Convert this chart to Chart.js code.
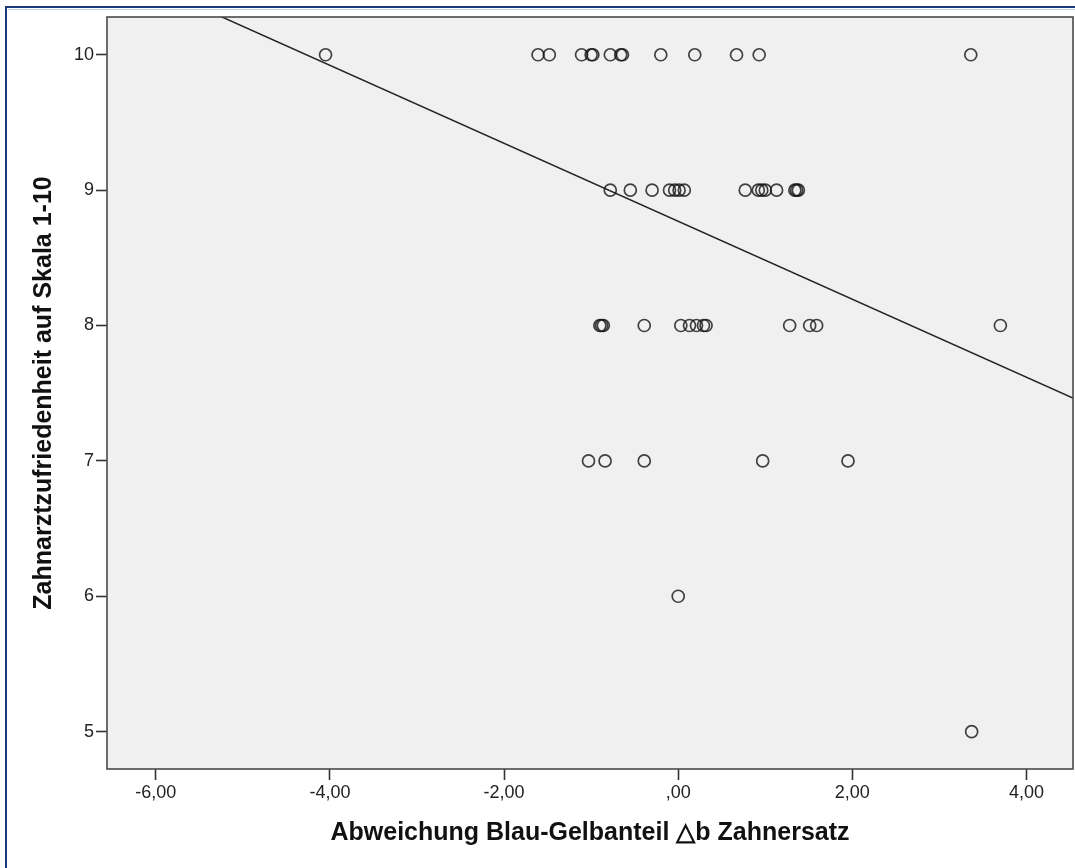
<!DOCTYPE html>
<html>
<head>
<meta charset="utf-8">
<script src="https://cdn.jsdelivr.net/npm/chart.js@4.4.1/dist/chart.umd.min.js"></script>
<style>
  html, body { margin: 0; padding: 0; background: #fff; overflow: hidden; }
  canvas { display: block; }
</style>
</head>
<body>
<canvas id="scatterChart" width="1075" height="868"></canvas>
<script>
// data
const abweichung = [
  -4.05, -1.61, -1.48, -1.11, -1.00, -0.98, -0.78, -0.66, -0.64, -0.20, 0.19, 0.67, 0.93, 3.36,
  -0.78, -0.55, -0.30, -0.10, -0.04, 0.01, 0.07, 0.77, 0.92, 0.96, 1.00, 1.13, 1.34, 1.36, 1.38,
  -0.90, -0.88, -0.86, -0.39, 0.03, 0.13, 0.21, 0.29, 0.32, 1.28, 1.51, 1.59, 3.70,
  -1.03, -0.84, -0.39, 0.97, 1.95,
  0.00,
  3.37
];
const zufriedenheit = [
  10, 10, 10, 10, 10, 10, 10, 10, 10, 10, 10, 10, 10, 10,
  9, 9, 9, 9, 9, 9, 9, 9, 9, 9, 9, 9, 9, 9, 9,
  8, 8, 8, 8, 8, 8, 8, 8, 8, 8, 8, 8, 8,
  7, 7, 7, 7, 7,
  6,
  5
];
// linear fit line
const fitIntercept = 8.77;
const fitSlope = -0.288;

const xTicks = [-6, -4, -2, 0, 2, 4];
const xTickLabels = ['-6,00', '-4,00', '-2,00', ',00', '2,00', '4,00'];
const yTicks = [5, 6, 7, 8, 9, 10];
const yTickLabels = ['5', '6', '7', '8', '9', '10'];

const xMin = -6.56, xMax = 4.534;
const yMin = 4.724, yMax = 10.279;

const points = abweichung.map((x, i) => ({ x: x, y: zufriedenheit[i] }));
const fitLine = [xMin, xMax].map(x => ({ x: x, y: fitIntercept + fitSlope * x }));

const FONT = '"Liberation Sans", Arial, sans-serif';

// background, blue page border and plot frame
const frame = {
  id: 'frame',
  beforeDraw(chart) {
    const c = chart.ctx, a = chart.chartArea;
    c.save();
    c.fillStyle = '#ffffff';
    c.fillRect(0, 0, chart.width, chart.height);
    c.fillStyle = '#f0f0f0';
    c.fillRect(a.left, a.top, a.right - a.left, a.bottom - a.top);
    c.strokeStyle = '#1b3a78';
    c.lineWidth = 2;
    c.beginPath();
    c.moveTo(6, chart.height);
    c.lineTo(6, 7);
    c.lineTo(chart.width, 7);
    c.stroke();
    c.strokeStyle = '#c3d0e8';
    c.lineWidth = 1;
    c.beginPath();
    c.moveTo(8, 9.5);
    c.lineTo(chart.width, 9.5);
    c.stroke();
    c.restore();
  },
  afterDraw(chart) {
    const c = chart.ctx, a = chart.chartArea;
    c.save();
    c.strokeStyle = '#4a4a4a';
    c.lineWidth = 1.6;
    c.strokeRect(a.left, a.top, a.right - a.left, a.bottom - a.top);
    c.restore();
  }
};

const ctx = document.getElementById('scatterChart').getContext('2d');

const myChart = new Chart(ctx, {
  type: 'scatter',
  data: {
    datasets: [
      {
        label: 'Fit',
        type: 'line',
        data: fitLine,
        borderColor: '#222',
        borderWidth: 1.5,
        pointRadius: 0,
        fill: false,
        order: 2
      },
      {
        label: 'Zahnarztzufriedenheit',
        data: points,
        pointStyle: 'circle',
        pointRadius: 6,
        pointBorderWidth: 1.7,
        borderColor: 'rgba(20,20,20,0.8)',
        backgroundColor: 'rgba(0,0,0,0)',
        pointHoverRadius: 6,
        order: 1
      }
    ]
  },
  options: {
    responsive: false,
    animation: false,
    devicePixelRatio: 1,
    layout: { autoPadding: false, padding: { left: 7, top: 17, right: 2, bottom: 0 } },
    plugins: {
      legend: { display: false },
      tooltip: { enabled: false }
    },
    scales: {
      x: {
        type: 'linear',
        min: xMin,
        max: xMax,
        afterFit(scale) {
          scale.height = 99;
          scale.paddingLeft = 0;
          scale.paddingRight = 0;
        },
        afterBuildTicks(scale) { scale.ticks = xTicks.map(v => ({ value: v })); },
        grid: { drawOnChartArea: false, drawTicks: true, tickLength: 11, tickColor: '#333', tickWidth: 1.6 },
        border: { display: false },
        ticks: {
          padding: 2,
          color: '#222',
          font: { family: FONT, size: 18 },
          maxRotation: 0,
          callback: (v) => xTickLabels[xTicks.indexOf(v)]
        },
        title: {
          display: true,
          text: 'Abweichung Blau-Gelbanteil \u25B3b Zahnersatz',
          color: '#111',
          font: { family: FONT, size: 25, weight: 'bold' },
          padding: { top: 0, bottom: 20 }
        }
      },
      y: {
        type: 'linear',
        min: yMin,
        max: yMax,
        afterFit(scale) {
          scale.width = 100;
          scale.paddingTop = 0;
          scale.paddingBottom = 0;
        },
        afterBuildTicks(scale) { scale.ticks = yTicks.map(v => ({ value: v })); },
        grid: { drawOnChartArea: false, drawTicks: true, tickLength: 11, tickColor: '#333', tickWidth: 1.6 },
        border: { display: false },
        ticks: {
          padding: 2,
          color: '#222',
          font: { family: FONT, size: 18 },
          callback: (v) => yTickLabels[yTicks.indexOf(v)]
        },
        title: {
          display: true,
          text: 'Zahnarztzufriedenheit auf Skala 1-10',
          color: '#111',
          font: { family: FONT, size: 25, weight: 'bold' },
          padding: { top: 22, bottom: 0 }
        }
      }
    }
  },
  plugins: [frame]
});
</script>
</body>
</html>
